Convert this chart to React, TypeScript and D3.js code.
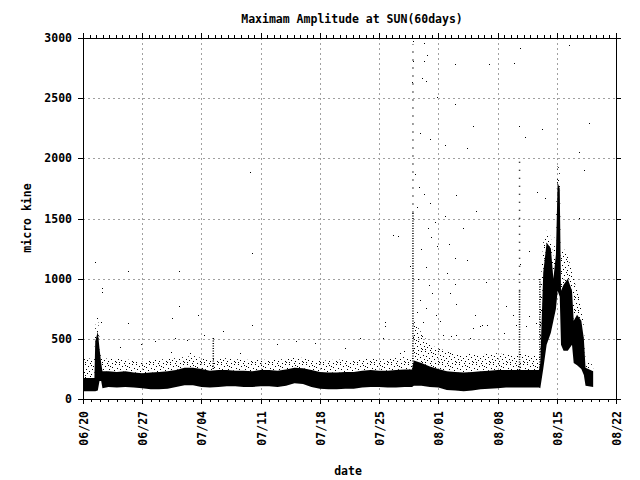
import * as d3 from 'd3'
import { useEffect, useRef } from 'react'

const W = 640
const H = 480
const M = { top: 38, right: 24, bottom: 81, left: 83 }
const FONT = '"DejaVu Sans Mono", "Liberation Mono", monospace'

const startDate = new Date(Date.UTC(2012, 5, 20))
const endDate = new Date(Date.UTC(2012, 7, 22))
const yTicks = [0, 500, 1000, 1500, 2000, 2500, 3000]
const weekOffsets = [0, 7, 14, 21, 28, 35, 42, 49, 56, 63]

// band of the dense record (days since 06/20)
const bandDays = [
  0, 1.35, 1.45, 1.75, 1.95, 2.15, 2.3, 3, 4, 5, 6, 7, 8, 9, 10, 11, 12, 13, 14, 15, 16, 17, 18, 19, 20, 21, 22,
  23, 24, 25, 26, 27, 28, 29, 30, 31, 32, 33, 34, 35, 36, 37, 38, 38.9, 39.1, 40, 41, 42, 43, 44, 45, 46, 47, 48,
  49, 50, 51, 52, 53, 53.9, 54.05, 54.4, 54.8, 55.3, 55.6, 55.9, 56.1, 56.35, 56.5, 56.8, 57.3, 57.8, 58.0, 58.4,
  58.9, 59.2, 59.4, 60.3,
]
const bandLow = [
  65, 65, 65, 70, 150, 150, 90, 100, 95, 100, 95, 90, 80, 80, 85, 100, 115, 115, 100, 95, 100, 105, 105, 100, 100,
  105, 105, 100, 110, 130, 125, 100, 85, 80, 80, 85, 85, 95, 100, 100, 95, 95, 100, 100, 110, 110, 100, 95, 75, 70,
  65, 70, 80, 85, 90, 95, 95, 95, 95, 95, 90, 250, 450, 550, 650, 750, 900, 850, 450, 400, 400, 450, 300, 280, 250,
  200, 110, 100,
]
const bandHigh = [
  175, 175, 480, 560, 420, 300, 230, 230, 225, 230, 220, 215, 220, 225, 230, 240, 260, 260, 250, 235, 240, 240, 235,
  235, 230, 240, 240, 235, 245, 260, 255, 240, 225, 220, 220, 225, 225, 235, 240, 235, 235, 240, 245, 245, 320, 300,
  270, 250, 230, 225, 220, 225, 230, 235, 240, 240, 240, 240, 240, 240, 300, 1050, 1300, 1250, 1000, 1200, 1800,
  1750, 900, 950, 1000, 900, 650, 700, 650, 500, 260, 230,
]
const fringeHigh = [
  330, 340, 600, 700, 500, 380, 350, 330, 340, 330, 320, 310, 320, 330, 330, 340, 350, 360, 340, 330, 330, 340, 330,
  330, 320, 330, 320, 330, 330, 350, 340, 320, 320, 320, 330, 320, 320, 330, 340, 330, 330, 340, 350, 350, 650, 550,
  450, 420, 400, 380, 370, 380, 370, 380, 380, 370, 370, 380, 360, 360, 900, 1300, 1400, 1350, 1150, 1500, 1950,
  1900, 1200, 1250, 1200, 1050, 1000, 900, 800, 600, 320, 280,
]

// dotted vertical runs of records
const denseStreaks: [number, number, number][] = [
  [39.0, 250, 1550],
  [54.0, 200, 1000],
  [15.4, 250, 510],
  [51.6, 200, 900],
]
const sparseStreaks: [number, number, number][] = [
  [39.0, 1550, 2950],
  [51.6, 900, 2000],
]

// isolated records [day, micro kine]
const outlierPoints: [number, number][] = [
  [1.4, 1138], [2.2, 925], [2.2, 890], [2.1, 640], [5.3, 1063], [5.3, 633], [4.4, 433], [6.9, 461], [8.5, 486],
  [10.5, 675], [10.9, 508], [11.4, 1063], [11.4, 777], [12.3, 488], [13.6, 694], [14.3, 536], [16.5, 567],
  [19.7, 1883], [20.0, 1217], [20.0, 617], [18.5, 383], [10.4, 388], [12.6, 383], [22.9, 461], [25.2, 486],
  [27.4, 467], [31.0, 425], [32.7, 508], [35.7, 642], [35.7, 608], [35.5, 508], [36.7, 1363], [37.2, 1355],
  [38.6, 1108], [37.5, 383], [38.0, 397], [39.0, 2972], [40.3, 2958], [40.7, 2861], [40.3, 2813], [39.0, 2808],
  [38.9, 2638], [40.1, 2667], [40.6, 2642], [51.6, 2917], [57.4, 2944], [44.0, 2786], [48.0, 2786], [50.9, 2792],
  [41.8, 2513], [44.0, 2453], [46.1, 2267], [39.8, 2208], [41.0, 2161], [51.5, 2267], [52.3, 2175], [54.3, 2244],
  [59.8, 2292], [45.4, 2086], [42.8, 2108], [58.6, 2050], [59.2, 1902], [39.3, 1869], [39.7, 1763], [44.1, 1694],
  [40.3, 1702], [41.0, 1625], [46.4, 1563], [42.8, 1522], [39.5, 1592], [53.7, 1722], [54.6, 1667], [58.6, 1508],
  [44.9, 1425], [41.6, 1467], [41.9, 1272], [43.3, 1286], [44.0, 1175], [45.4, 1155], [52.7, 1230], [51.6, 1119],
  [43.0, 1050], [47.6, 972], [44.0, 952], [43.4, 883], [50.0, 772], [44.1, 786], [46.3, 702], [47.2, 619],
  [50.8, 694], [52.7, 689], [53.5, 633], [47.7, 619], [46.9, 605], [46.1, 592], [51.2, 619], [52.4, 605],
  [42.5, 536], [43.5, 522], [44.1, 536], [45.7, 508], [49.8, 550], [40.0, 1250], [40.5, 1100], [39.6, 1000],
  [40.9, 950], [41.3, 880], [39.8, 820], [40.6, 760], [41.7, 700], [42.2, 650], [40.2, 640], [39.5, 720],
  [41.1, 1350], [40.8, 1420],
]

const toDate = (d: number) => new Date(startDate.getTime() + d * 86400000)

export default function App() {
  const svgRef = useRef<SVGSVGElement>(null)

  useEffect(() => {
    document.body.style.margin = '0'
    const svgEl = svgRef.current
    if (!svgEl) return
    const svg = d3.select(svgEl)
    svg.selectAll('*').remove()

    const x = d3.scaleUtc().domain([startDate, endDate]).range([M.left, W - M.right])
    const y = d3.scaleLinear().domain([0, 3000]).range([H - M.bottom, M.top])
    const x0 = M.left
    const x1 = W - M.right
    const y0 = H - M.bottom
    const y1 = M.top

    svg.append('rect').attr('width', W).attr('height', H).attr('fill', '#fff')

    // irregular dot tile for the thin scatter above the band
    const defs = svg.append('defs')
    const pat = defs
      .append('pattern')
      .attr('id', 'fringeDots')
      .attr('patternUnits', 'userSpaceOnUse')
      .attr('width', 17)
      .attr('height', 13)
    const tile = [
      [0, 0], [6, 1], [13, 0], [3, 2], [10, 3], [15, 4], [1, 5], [7, 5], [12, 6], [4, 7], [9, 8], [16, 8],
      [2, 9], [6, 10], [13, 10], [0, 11], [10, 12], [5, 12], [8, 2], [14, 11],
    ]
    tile.forEach(([px, py]) => pat.append('rect').attr('x', px).attr('y', py).attr('width', 1).attr('height', 1).attr('fill', '#000'))

    // grid
    const weekTicks = weekOffsets.map(toDate)
    const grid = svg.append('g').attr('stroke', '#a0a0a0').attr('stroke-dasharray', '2 3').attr('shape-rendering', 'crispEdges')
    weekTicks.forEach((t) => {
      const px = Math.round(x(t)) + 0.5
      grid.append('line').attr('x1', px).attr('x2', px).attr('y1', y1).attr('y2', y0)
    })
    yTicks.forEach((v) => {
      const py = Math.round(y(v)) + 0.5
      grid.append('line').attr('x1', x0).attr('x2', x1).attr('y1', py).attr('y2', py)
    })

    const rows = bandDays.map((d, i) => ({ d, lo: bandLow[i], hi: bandHigh[i], fr: fringeHigh[i] }))

    const fringeArea = d3
      .area<(typeof rows)[number]>()
      .x((r) => x(toDate(r.d)))
      .y0((r) => y(r.hi))
      .y1((r) => y(r.fr))
    const coreArea = d3
      .area<(typeof rows)[number]>()
      .x((r) => x(toDate(r.d)))
      .y0((r) => y(r.lo))
      .y1((r) => y(r.hi))

    svg.append('path').attr('d', fringeArea(rows) ?? '').attr('fill', 'url(#fringeDots)')
    svg.append('path').attr('d', coreArea(rows) ?? '').attr('fill', '#000')

    const streakG = svg.append('g').attr('stroke', '#000').attr('stroke-width', 1.5)
    denseStreaks.forEach(([d, lo, hi]) => {
      const px = x(toDate(d))
      streakG.append('line').attr('x1', px).attr('x2', px).attr('y1', y(lo)).attr('y2', y(hi)).attr('stroke-dasharray', '1 1.5')
    })
    sparseStreaks.forEach(([d, lo, hi]) => {
      const px = x(toDate(d))
      streakG.append('line').attr('x1', px).attr('x2', px).attr('y1', y(lo)).attr('y2', y(hi)).attr('stroke-dasharray', '1 7')
    })

    svg
      .append('g')
      .attr('shape-rendering', 'crispEdges')
      .selectAll('rect')
      .data(outlierPoints)
      .join('rect')
      .attr('x', ([d]) => Math.round(x(toDate(d))))
      .attr('y', ([, v]) => Math.round(y(v)))
      .attr('width', 1)
      .attr('height', 1)
      .attr('fill', '#000')

    // frame and ticks
    const ax = svg.append('g').attr('stroke', '#000').attr('shape-rendering', 'crispEdges')
    ax.append('rect')
      .attr('x', x0 + 0.5)
      .attr('y', y1 + 0.5)
      .attr('width', x1 - x0)
      .attr('height', y0 - y1)
      .attr('fill', 'none')

    d3.range(0, 64).forEach((d) => {
      const px = Math.round(x(toDate(d))) + 0.5
      const major = d % 7 === 0
      ax.append('line').attr('x1', px).attr('x2', px).attr('y1', y0).attr('y2', y0 + (major ? 5 : 3))
    })
    weekTicks.forEach((t, i) => {
      const px = Math.round(x(t)) + 0.5
      ax.append('line').attr('x1', px).attr('x2', px).attr('y1', y1).attr('y2', y1 - 5)
      if (i === weekTicks.length - 1) return
      const next = x(weekTicks[i + 1])
      for (let k = 1; k < 9; k++) {
        const mx = Math.round(x(t) + ((next - x(t)) * k) / 9) + 0.5
        ax.append('line').attr('x1', mx).attr('x2', mx).attr('y1', y1).attr('y2', y1 - 3)
      }
    })
    yTicks.forEach((v) => {
      const py = Math.round(y(v)) + 0.5
      ax.append('line').attr('x1', x0 - 5).attr('x2', x0).attr('y1', py).attr('y2', py)
      ax.append('line').attr('x1', x1).attr('x2', x1 + 5).attr('y1', py).attr('y2', py)
    })

    const txt = svg
      .append('g')
      .attr('font-family', FONT)
      .attr('font-weight', 'bold')
      .attr('font-size', 11.5)
      .attr('fill', '#000')

    yTicks.forEach((v) => {
      txt.append('text').attr('x', 72).attr('y', y(v)).attr('dy', '0.35em').attr('text-anchor', 'end').text(String(v))
    })
    const fmt = d3.utcFormat('%m/%d')
    weekTicks.forEach((t) => {
      txt
        .append('text')
        .attr('transform', `translate(${x(t) + 1},${y0 + 12}) rotate(-90)`)
        .attr('dy', '0.35em')
        .attr('text-anchor', 'end')
        .text(fmt(t))
    })

    txt.append('text').attr('x', 352).attr('y', 22.5).attr('text-anchor', 'middle').text('Maximam Amplitude at SUN(60days)')
    txt.append('text').attr('x', 348).attr('y', 475).attr('text-anchor', 'middle').text('date')
    txt
      .append('text')
      .attr('transform', 'translate(27,218) rotate(-90)')
      .attr('dy', '0.35em')
      .attr('text-anchor', 'middle')
      .text('micro kine')
  }, [])

  return <svg ref={svgRef} width={W} height={H} style={{ display: 'block' }} />
}
